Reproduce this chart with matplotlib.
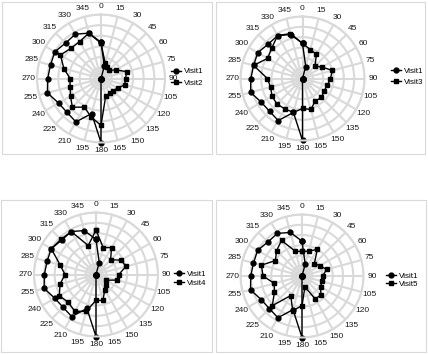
import matplotlib.pyplot as plt
import numpy as np
from matplotlib.patches import Rectangle

plt.rcParams["font.family"] = ["Liberation Sans", "DejaVu Sans"]

# --- dane ---
angles = list(range(0, 360, 15))
angle_labels = [str(a) for a in angles]

visit1 = [34, 12, 0, 0, 0, 0, 0, 0, 0, 0, 0, 0, 60, 34, 47, 45, 46, 52, 50, 49, 50, 47, 48, 44]
visit2 = [33, 15, 12, 11, 16, 25, 23, 23, 18, 16, 16, 17, 44, 37, 31, 38, 33, 30, 29, 36, 44, 40, 40, 44]
visit3 = [34, 29, 27, 17, 22, 30, 27, 25, 24, 26, 25, 31, 29, 34, 34, 35, 34, 32, 34, 49, 39, 42, 48, 45]
visit4 = [43, 27, 30, 20, 28, 30, 22, 21, 11, 14, 17, 26, 25, 37, 41, 38, 41, 36, 30, 36, 50, 48, 48, 29]
visit5 = [24, 25, 30, 17, 20, 25, 20, 20, 21, 26, 26, 11, 29, 35, 22, 41, 31, 28, 38, 41, 30, 35, 40, 25]

other_visits = [("Visit2", visit2), ("Visit3", visit3), ("Visit4", visit4), ("Visit5", visit5)]

W, H = 428, 354
fig = plt.figure(figsize=(W / 100, H / 100), dpi=100)

# ramki paneli (x0, y0, x1, y1 w pikselach)
boxes = [(2, 2, 212, 154), (216, 2, 425, 154), (1, 200, 212, 352), (216, 200, 426, 352)]
# środek i promień wykresu radarowego
polar_pos = [(101, 78.5, 64), (302.5, 78.5, 62), (96, 274.5, 62), (302, 276, 61.5)]
# pozycja legendy (lewy brzeg, środek w pionie, odstęp)
legend_pos = [(171, 77.5, 0.5), (391, 76.7, 0.35), (174, 278.7, 0.15), (386, 280, 0.05)]

grid_col = "#d9d9d9"

for i, (name, vals) in enumerate(other_visits):
    x0, y0, x1, y1 = boxes[i]
    fig.add_artist(Rectangle((x0 / W, 1 - y1 / H), (x1 - x0) / W, (y1 - y0) / H,
                             transform=fig.transFigure, fill=False, ec=grid_col, lw=0.8))

    cx, cy, R = polar_pos[i]
    ax = fig.add_axes([(cx - R) / W, 1 - (cy + R) / H, 2 * R / W, 2 * R / H], projection="polar")
    ax.set_theta_zero_location("N")
    ax.set_theta_direction(-1)
    ax.set_ylim(0, 60)
    ax.set_yticks([10, 20, 30, 40, 50, 60])
    ax.set_yticklabels([])
    ax.set_thetagrids(angles, angle_labels, fontsize=6, color="#1a1a1a")
    ax.tick_params(axis="x", pad=-1, length=0)
    ax.tick_params(axis="y", length=0)
    ax.grid(color=grid_col, lw=1.5)
    ax.spines["polar"].set_color(grid_col)
    ax.spines["polar"].set_linewidth(1.5)
    ax.set_axisbelow(True)

    theta = np.deg2rad(angles + [angles[0]])
    l1, = ax.plot(theta, visit1 + [visit1[0]], color="black", lw=1.0, marker="o", ms=3.5,
                  clip_on=False, label="Visit1")
    l2, = ax.plot(theta, vals + [vals[0]], color="black", lw=1.0, marker="s", ms=3.5,
                  clip_on=False, label=name)

    lx, ly, sp = legend_pos[i]
    ax.legend(handles=[l1, l2], loc="center left", bbox_to_anchor=(lx / W, 1 - ly / H),
              bbox_transform=fig.transFigure, frameon=False, fontsize=5.8,
              handlelength=1.3, handletextpad=0.3, labelspacing=sp, borderpad=0,
              borderaxespad=0)

fig.savefig("out.png", dpi=100)
